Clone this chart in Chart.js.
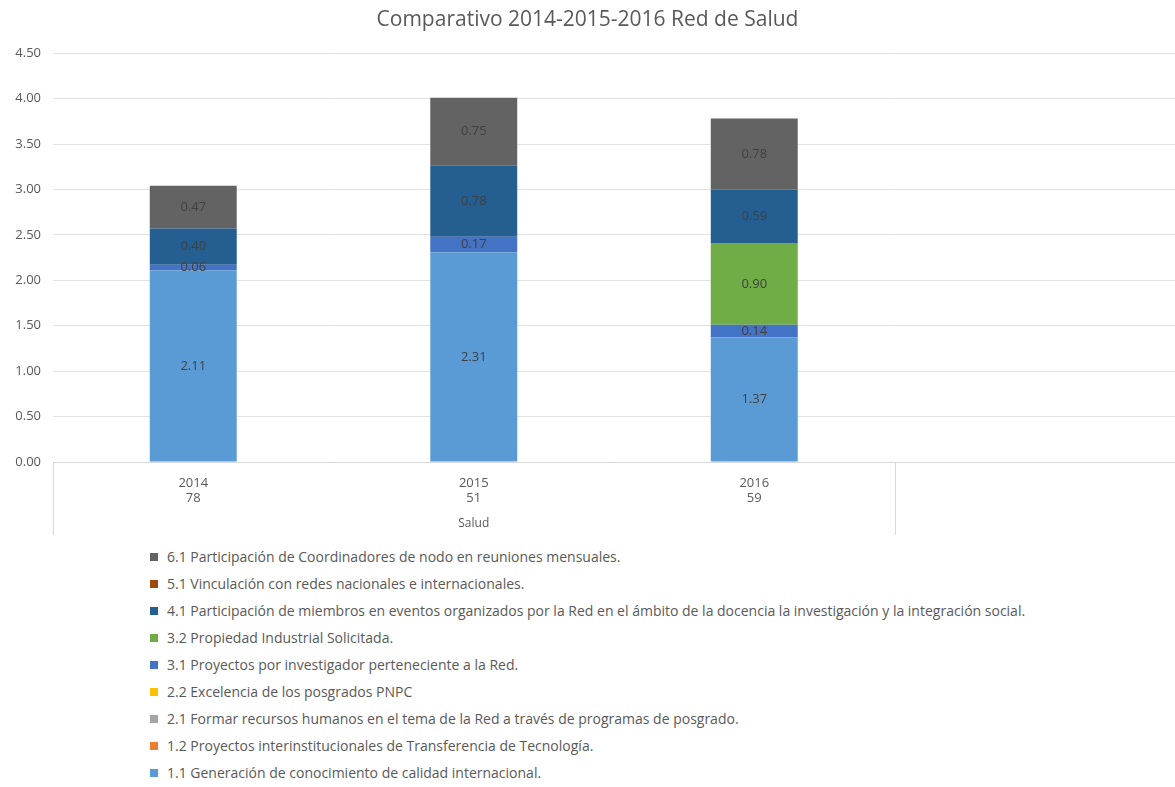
<!DOCTYPE html>
<html>
<head>
<meta charset="utf-8">
<script src="https://cdn.jsdelivr.net/npm/chart.js@4.4.1/dist/chart.umd.min.js"></script>
<style>
  body { margin: 0; background: #fff; font-family: "Open Sans", Lato, sans-serif; }
  #wrap { position: relative; width: 1175px; height: 787px; }
  #chartBox { position: absolute; left: 0; top: 0; width: 1175px; height: 540px; }
  #legend { position: absolute; left: 150px; top: 544px; margin: 0; padding: 0; list-style: none; }
  #legend li { height: 26.9px; line-height: 16px; font-size: 14px; color: #595959; display: flex; align-items: center; white-space: nowrap; }
  #legend li span { display: inline-block; width: 8px; height: 8px; margin-right: 9px; }
</style>
</head>
<body>
<div id="wrap">
  <div id="chartBox"><canvas id="chart"></canvas></div>
  <ul id="legend"></ul>
</div>
<script>
const FONT = '"Open Sans", Lato, sans-serif';

const years = ['2014', '2015', '2016', ''];
const counts = ['78', '51', '59', ''];
const groupName = 'Salud';

// series, bottom of the stack first
const seriesNames = [
  '1.1 Generación de conocimiento de calidad internacional.',
  '1.2 Proyectos interinstitucionales de Transferencia de Tecnología.',
  '2.1 Formar recursos humanos en el tema de la Red a través de programas de posgrado.',
  '2.2 Excelencia de los posgrados PNPC',
  '3.1 Proyectos por investigador perteneciente a la Red.',
  '3.2 Propiedad Industrial Solicitada.',
  '4.1 Participación de miembros en eventos organizados por la Red en el ámbito de la docencia la investigación y la integración social.',
  '5.1 Vinculación con redes nacionales e internacionales.',
  '6.1 Participación de Coordinadores de nodo en reuniones mensuales.'
];
const seriesColors = ['#5B9BD5', '#ED7D31', '#A5A5A5', '#FFC000', '#4472C4', '#70AD47', '#255E91', '#9E480E', '#636363'];

const s11 = [2.11, 2.31, 1.37, null];
const s12 = [null, null, null, null];
const s21 = [null, null, null, null];
const s22 = [null, null, null, null];
const s31 = [0.06, 0.17, 0.14, null];
const s32 = [null, null, 0.90, null];
const s41 = [0.40, 0.78, 0.59, null];
const s51 = [null, null, null, null];
const s61 = [0.47, 0.75, 0.78, null];
const seriesValues = [s11, s12, s21, s22, s31, s32, s41, s51, s61];

const labels = years.map((y, i) => [y, counts[i]]);

const datasets = seriesNames.map((name, i) => ({
  label: name,
  data: seriesValues[i],
  backgroundColor: seriesColors[i],
  borderWidth: 0,
  categoryPercentage: 1,
  barPercentage: 0.31
}));

// value labels in the middle of each segment
const segmentLabels = {
  id: 'segmentLabels',
  afterDatasetsDraw(chart) {
    const ctx = chart.ctx;
    ctx.save();
    ctx.font = '13px ' + FONT;
    ctx.fillStyle = '#404040';
    ctx.textAlign = 'center';
    ctx.textBaseline = 'middle';
    chart.data.datasets.forEach((ds, i) => {
      const meta = chart.getDatasetMeta(i);
      meta.data.forEach((bar, j) => {
        const v = ds.data[j];
        if (v == null || v <= 0) return;
        const c = bar.getCenterPoint();
        ctx.fillText(v.toFixed(2), c.x, c.y);
      });
    });
    ctx.restore();
  }
};

// group label under the year ticks + separator lines
const groupAxis = {
  id: 'groupAxis',
  afterDraw(chart) {
    const ctx = chart.ctx;
    const x = chart.scales.x;
    const area = chart.chartArea;
    const step = x.getPixelForValue(1) - x.getPixelForValue(0);
    const left = x.getPixelForValue(0) - step / 2;
    const sep = x.getPixelForValue(2) + step / 2;
    const bottom = area.bottom + 73;
    ctx.save();
    ctx.strokeStyle = '#d9d9d9';
    ctx.lineWidth = 1;
    [left, sep].forEach(px => {
      ctx.beginPath();
      ctx.moveTo(Math.round(px) + 0.5, area.bottom);
      ctx.lineTo(Math.round(px) + 0.5, bottom);
      ctx.stroke();
    });
    ctx.font = '12px ' + FONT;
    ctx.fillStyle = '#595959';
    ctx.textAlign = 'center';
    ctx.textBaseline = 'middle';
    ctx.fillText(groupName, x.getPixelForValue(1), area.bottom + 62);
    ctx.restore();
  }
};

const chart = new Chart(document.getElementById('chart'), {
  type: 'bar',
  data: { labels: labels, datasets: datasets },
  options: {
    responsive: true,
    maintainAspectRatio: false,
    animation: false,
    layout: { padding: { left: 0, right: 0, top: 0, bottom: 5 } },
    plugins: {
      legend: { display: false },
      tooltip: { enabled: false },
      title: {
        display: true,
        text: 'Comparativo 2014-2015-2016 Red de Salud',
        color: '#595959',
        font: { family: FONT, size: 21, weight: 'normal' },
        padding: { top: 7, bottom: 21 }
      }
    },
    scales: {
      x: {
        stacked: true,
        grid: { display: false },
        border: { color: '#d9d9d9' },
        ticks: {
          color: '#595959',
          font: { family: FONT, size: 13 },
          padding: 5,
          maxRotation: 0
        },
        afterFit(scale) { scale.height = 73; }
      },
      y: {
        stacked: true,
        min: 0,
        max: 4.5,
        grid: { color: '#e3e3e3', drawTicks: false },
        border: { display: false },
        ticks: {
          stepSize: 0.5,
          padding: 12,
          color: '#595959',
          font: { family: FONT, size: 13 },
          callback: v => v.toFixed(2)
        },
        afterFit(scale) { scale.width = 53; }
      }
    }
  },
  plugins: [segmentLabels, groupAxis]
});

// legend, top series first
const legendEl = document.getElementById('legend');
seriesNames.slice().reverse().forEach((name, k) => {
  const i = seriesNames.length - 1 - k;
  const li = document.createElement('li');
  const box = document.createElement('span');
  box.style.background = seriesColors[i];
  li.appendChild(box);
  li.appendChild(document.createTextNode(name));
  legendEl.appendChild(li);
});
</script>
</body>
</html>
